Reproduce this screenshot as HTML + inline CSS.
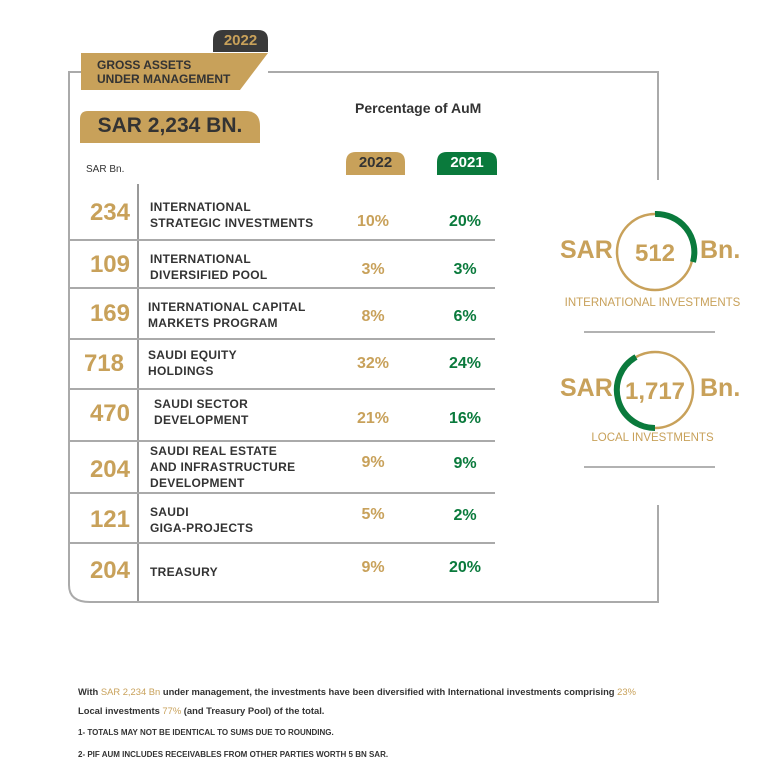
<!DOCTYPE html>
<html><head><meta charset="utf-8"><style>
body{margin:0;background:#fff;width:783px;height:783px;position:relative;font-family:"Liberation Sans",sans-serif;overflow:hidden}
.a{position:absolute;white-space:nowrap}
.g{color:#c8a15a}.gr{color:#0a7a3c}.d{color:#333}
.num{position:absolute;left:72px;width:58px;text-align:right;font-size:24px;font-weight:bold;color:#c8a15a}
.lab{position:absolute;left:150px;font-size:12px;letter-spacing:0.3px;color:#333;line-height:16px;font-weight:bold}
.p1{position:absolute;left:340px;width:66px;text-align:center;font-size:16px;font-weight:bold;color:#c8a15a}
.p2{position:absolute;left:432px;width:66px;text-align:center;font-size:16px;font-weight:bold;color:#0a7a3c}
.hl{position:absolute;left:69px;width:426px;height:2px;background:#aaa}
</style></head><body>
<svg class="a" style="left:0;top:0" width="783" height="783">
<path d="M268 72 H658 V180 M658 505 V602 H90 Q69 602 69 585 V72 H82" fill="none" stroke="#aaa" stroke-width="2"/>
<line x1="138" y1="184" x2="138" y2="601" stroke="#999" stroke-width="2"/>
<path d="M213 52 V40 Q213 30 223 30 H258 Q268 30 268 40 V52 Z" fill="#3a3a3a"/>
<path d="M81 53 H268 L240 90 H81 Z" fill="#c8a15a"/>
<path d="M80 143 V119 Q80 111 88 111 H245 Q260 111 260 126 V143 Z" fill="#c8a15a"/>
<path d="M346 175 V162 Q346 152 356 152 H395 Q405 152 405 162 V175 Z" fill="#c8a15a"/>
<path d="M437 175 V162 Q437 152 447 152 H487 Q497 152 497 162 V175 Z" fill="#0a7a3c"/>
<circle cx="655" cy="252" r="38" fill="none" stroke="#c8a15a" stroke-width="2.5"/>
<path d="M655 214 A38 38 0 0 1 693 262" fill="none" stroke="#0a7a3c" stroke-width="6"/>
<circle cx="655" cy="390" r="38" fill="none" stroke="#c8a15a" stroke-width="2.5"/>
<path d="M636 357 A38 38 0 0 0 655 428" fill="none" stroke="#0a7a3c" stroke-width="6"/>
<line x1="584" y1="332" x2="715" y2="332" stroke="#999" stroke-width="1.5"/>
<line x1="584" y1="467" x2="715" y2="467" stroke="#999" stroke-width="1.5"/>
</svg>
<div class="a" style="left:213px;top:32px;width:55px;text-align:center;font-size:15px;font-weight:bold;color:#c8a15a">2022</div>
<div class="a d" style="left:97px;top:58px;font-size:12px;line-height:14px;font-weight:bold">GROSS ASSETS<br>UNDER MANAGEMENT</div>
<div class="a d" style="left:80px;top:114px;width:180px;text-align:center;font-size:21px;font-weight:bold">SAR 2,234 BN.</div>
<div class="a d" style="left:355px;top:100px;font-size:14px;font-weight:bold">Percentage of AuM</div>
<div class="a d" style="left:346px;top:154px;width:59px;text-align:center;font-size:15px;font-weight:bold">2022</div>
<div class="a" style="left:437px;top:154px;width:60px;text-align:center;font-size:15px;font-weight:bold;color:#fff">2021</div>
<div class="a d" style="left:86px;top:164px;font-size:10px">SAR Bn.</div>
<div class="hl" style="top:239px"></div><div class="hl" style="top:287px"></div><div class="hl" style="top:338px"></div><div class="hl" style="top:388px"></div><div class="hl" style="top:440px"></div><div class="hl" style="top:492px"></div><div class="hl" style="top:542px"></div>
<div class="num" style="top:199px">234</div><div class="lab" style="top:199px">INTERNATIONAL<br>STRATEGIC INVESTMENTS</div><div class="p1" style="top:213px">10%</div><div class="p2" style="top:213px">20%</div>
<div class="num" style="top:251px">109</div><div class="lab" style="top:251px">INTERNATIONAL<br>DIVERSIFIED POOL</div><div class="p1" style="top:261px">3%</div><div class="p2" style="top:261px">3%</div>
<div class="num" style="top:300px">169</div><div class="lab" style="top:299px;left:148px">INTERNATIONAL CAPITAL<br>MARKETS PROGRAM</div><div class="p1" style="top:308px">8%</div><div class="p2" style="top:308px">6%</div>
<div class="num" style="top:350px;left:66px">718</div><div class="lab" style="top:347px;left:148px">SAUDI EQUITY<br>HOLDINGS</div><div class="p1" style="top:355px">32%</div><div class="p2" style="top:355px">24%</div>
<div class="num" style="top:400px">470</div><div class="lab" style="top:396px;left:154px">SAUDI SECTOR<br>DEVELOPMENT</div><div class="p1" style="top:410px">21%</div><div class="p2" style="top:410px">16%</div>
<div class="num" style="top:456px">204</div><div class="lab" style="top:443px">SAUDI REAL ESTATE<br>AND INFRASTRUCTURE<br>DEVELOPMENT</div><div class="p1" style="top:454px">9%</div><div class="p2" style="top:455px">9%</div>
<div class="num" style="top:506px">121</div><div class="lab" style="top:504px">SAUDI<br>GIGA-PROJECTS</div><div class="p1" style="top:506px">5%</div><div class="p2" style="top:507px">2%</div>
<div class="num" style="top:557px">204</div><div class="lab" style="top:564px">TREASURY</div><div class="p1" style="top:559px">9%</div><div class="p2" style="top:559px">20%</div>
<div class="a g" style="left:560px;top:236px;font-size:25px;font-weight:bold">SAR</div>
<div class="a g" style="left:617px;top:240px;width:76px;text-align:center;font-size:24px;font-weight:bold">512</div>
<div class="a g" style="left:700px;top:236px;font-size:25px;font-weight:bold">Bn.</div>
<div class="a g" style="left:555px;top:297px;width:195px;text-align:center;font-size:11.5px">INTERNATIONAL INVESTMENTS</div>
<div class="a g" style="left:560px;top:374px;font-size:25px;font-weight:bold">SAR</div>
<div class="a g" style="left:617px;top:378px;width:76px;text-align:center;font-size:24px;font-weight:bold">1,717</div>
<div class="a g" style="left:700px;top:374px;font-size:25px;font-weight:bold">Bn.</div>
<div class="a g" style="left:555px;top:432px;width:195px;text-align:center;font-size:11.5px">LOCAL INVESTMENTS</div>
<div class="a d" style="left:78px;top:686px;font-size:9.4px;font-weight:bold">With <span class="g" style="font-weight:normal">SAR 2,234 Bn</span> under management, the investments have been diversified with International investments comprising <span class="g" style="font-weight:normal">23%</span></div>
<div class="a d" style="left:78px;top:705px;font-size:9.4px;font-weight:bold">Local investments <span class="g" style="font-weight:normal">77%</span> (and Treasury Pool) of the total.</div>
<div class="a d" style="left:78px;top:728px;font-size:8px;font-weight:bold">1- TOTALS MAY NOT BE IDENTICAL TO SUMS DUE TO ROUNDING.</div>
<div class="a d" style="left:78px;top:750px;font-size:8px;font-weight:bold">2- PIF AUM INCLUDES RECEIVABLES FROM OTHER PARTIES WORTH 5 BN SAR.</div>
</body></html>
